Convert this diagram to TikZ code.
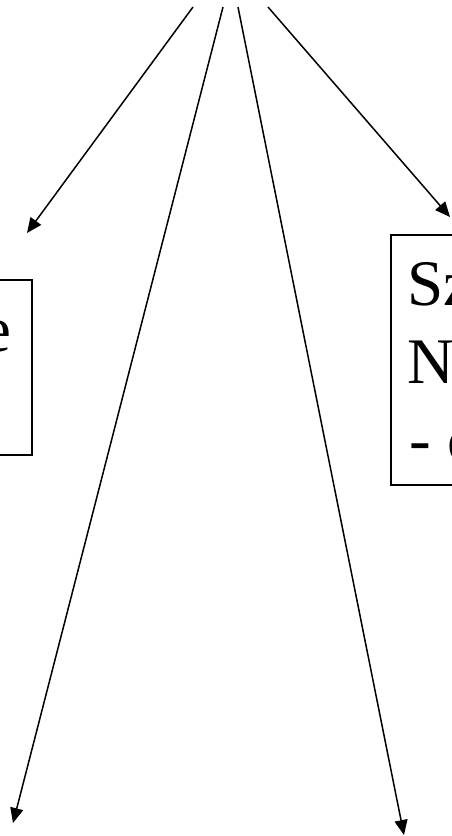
\documentclass[tikz,border=0pt]{standalone}
\usepackage{fontspec}
\setmainfont{Liberation Serif}
\usetikzlibrary{arrows.meta}
\tikzset{
  conn/.style={line width=1.5pt, -{Triangle[length=15pt,width=13pt]}},
  box/.style={draw, line width=1.6pt, inner sep=0pt},
  txt/.style={inner sep=0pt, font=\fontsize{65}{78}\selectfont}
}
\begin{document}
\begin{tikzpicture}[x=1pt,y=-1pt]
\useasboundingbox (0,0) rectangle (452,836);
\clip (0,0) rectangle (452,836);
\fill[white] (0,0) rectangle (452,836);
% boxes
\node[box, anchor=north east, minimum width=200pt, minimum height=175pt] (L) at (33,279) {};
\node[box, anchor=north west, minimum width=150pt, minimum height=250pt] (R) at (390,234) {};
% texts
\node[txt, anchor=base east] (Lt1) at (12,351) {e};
\node[txt, anchor=base west] (Rt1) at (407,305) {Sz};
\node[txt, anchor=base west] (Rt2) at (407,383) {N};
\node[txt, anchor=base west] (Rt3) at (409,461) {- c};
% connector ends
\coordinate (s1) at (193,7);
\coordinate (s2) at (223,7);
\coordinate (s3) at (238,7);
\coordinate (s4) at (268,7);
\coordinate (e1) at (27,233);
\coordinate (e2) at (13,823);
\coordinate (e3) at (404,835);
\coordinate (e4) at (450,217);
\draw[conn] (s1) -- (e1);
\draw[conn] (s2) -- (e2);
\draw[conn] (s3) -- (e3);
\draw[conn] (s4) -- (e4);
\end{tikzpicture}
\end{document}
